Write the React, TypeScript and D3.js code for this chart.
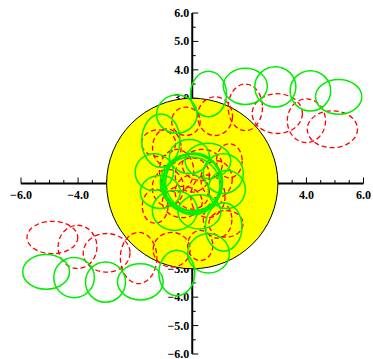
import React, { useEffect, useRef } from 'react';
import * as d3 from 'd3';

// [cx, cy, rx, ry] in data units
const greenEllipses: number[][] = [
  [0.57, 3.15, 0.63, 0.8],
  [1.86, 3.42, 0.77, 0.64],
  [2.91, 3.4, 0.72, 0.71],
  [4.14, 3.26, 0.71, 0.71],
  [5.13, 3.05, 0.81, 0.61],
  [-0.54, -3.15, 0.63, 0.8],
  [-1.82, -3.46, 0.8, 0.64],
  [-3.04, -3.47, 0.7, 0.71],
  [-4.14, -3.31, 0.71, 0.71],
  [-5.12, -3.11, 0.82, 0.61],
  [-0.54, 2.44, 0.71, 0.67],
  [0.57, -2.46, 0.73, 0.69],
  [-1.1, 1.51, 0.67, 0.94],
  [1.1, -1.53, 0.64, 0.85],
  [-1.33, 0.4, 0.67, 0.65],
  [-1.12, -0.3, 0.7, 0.58],
  [-0.61, -0.95, 0.79, 0.7],
  [0.25, -1.0, 0.75, 0.6],
  [1.09, 0.35, 0.7, 0.7],
  [1.21, -0.21, 0.65, 0.67],
  [0.55, 0.8, 0.8, 0.62],
  [-0.1, 0.95, 0.7, 0.6],
  [0.0, 0.0, 1.05, 1.05],
  [0.03, -0.02, 1.0, 1.08],
  [-0.04, 0.03, 1.08, 1.0],
  [0.05, 0.05, 0.98, 1.02],
  [-0.05, -0.05, 1.02, 0.98],
  [0.02, 0.04, 1.04, 1.0],
];

const redEllipses: number[][] = [
  [0.8, 2.37, 0.61, 0.68],
  [1.86, 2.68, 0.6, 0.82],
  [2.98, 2.46, 0.88, 0.7],
  [4.0, 2.21, 0.67, 0.77],
  [4.91, 1.91, 0.88, 0.65],
  [-0.72, -2.33, 0.65, 0.61],
  [-1.88, -2.62, 0.64, 0.9],
  [-3.0, -2.44, 0.82, 0.68],
  [-4.02, -2.23, 0.68, 0.76],
  [-4.9, -1.9, 0.89, 0.57],
  [-0.22, 2.19, 0.5, 0.5],
  [0.28, -2.18, 0.44, 0.53],
  [-0.89, 1.27, 0.5, 0.65],
  [0.89, -1.27, 0.5, 0.65],
  [1.18, -1.42, 0.6, 0.47],
  [-1.18, 1.42, 0.6, 0.47],
  [-0.55, 0.45, 0.6, 0.75],
  [0.55, -0.45, 0.6, 0.75],
  [0.35, 0.65, 0.7, 0.55],
  [-0.35, -0.65, 0.7, 0.55],
  [-0.85, -0.15, 0.55, 0.65],
  [0.85, 0.15, 0.55, 0.65],
  [0.0, 0.3, 0.6, 0.6],
  [0.0, -0.3, 0.6, 0.6],
  [1.3, 0.8, 0.45, 0.6],
  [-1.3, -0.8, 0.45, 0.6],
];

const xLabelTicks = [-6, -4, -2, 0, 2, 4, 6];
const yLabelTicks = [-6, -5, -4, -3, -2, -1, 0, 1, 2, 3, 4, 5, 6];
const minorTicks = d3.range(-6, 6.01, 0.5);
const circleRadius = 3;

const fmt = (v: number) => (v < 0 ? '\u2212' : '') + Math.abs(v).toFixed(1);

export default function App() {
  const svgRef = useRef<SVGSVGElement>(null);

  useEffect(() => {
    if (!svgRef.current) return;
    const width = 373;
    const height = 359;

    const svg = d3.select(svgRef.current).attr('width', width).attr('height', height);
    svg.selectAll('*').remove();

    const x = d3.scaleLinear().domain([-6, 6]).range([21, 363.5]);
    const y = d3.scaleLinear().domain([-6, 6]).range([354, 13]);
    const kx = x(1) - x(0);
    const ky = y(0) - y(1);
    const x0 = x(0);
    const y0 = y(0);

    const font = '"Liberation Serif", "Times New Roman", serif';

    // X axis
    svg.append('line')
      .attr('x1', x(-6)).attr('x2', x(6))
      .attr('y1', y0).attr('y2', y0)
      .attr('stroke', '#000').attr('stroke-width', 2);

    svg.selectAll('.xminor')
      .data(minorTicks)
      .enter()
      .append('line')
      .attr('x1', (d) => x(d)).attr('x2', (d) => x(d))
      .attr('y1', y0)
      .attr('y2', (d) => (Math.abs(d % 2) < 1e-6 ? y0 - 6 : y0 - 3.5))
      .attr('stroke', '#000').attr('stroke-width', 1);

    svg.selectAll('.xlab')
      .data(xLabelTicks)
      .enter()
      .append('text')
      .attr('x', (d) => x(d))
      .attr('y', y0 + 15)
      .attr('text-anchor', 'middle')
      .style('font-family', font)
      .style('font-weight', 'bold')
      .style('font-size', '12px')
      .text((d) => fmt(d));

    // Y axis
    svg.append('line')
      .attr('x1', x0).attr('x2', x0)
      .attr('y1', y(-6)).attr('y2', y(6))
      .attr('stroke', '#000').attr('stroke-width', 2);

    svg.selectAll('.yminor')
      .data(minorTicks)
      .enter()
      .append('line')
      .attr('y1', (d) => y(d)).attr('y2', (d) => y(d))
      .attr('x1', x0)
      .attr('x2', (d) => (Math.abs(d % 1) < 1e-6 ? x0 + 6 : x0 + 3.5))
      .attr('stroke', '#000').attr('stroke-width', 1);

    svg.selectAll('.ylab')
      .data(yLabelTicks)
      .enter()
      .append('text')
      .attr('x', x0 - 3)
      .attr('y', (d) => Math.min(y(d) + 4, 357.5))
      .attr('text-anchor', 'end')
      .style('font-family', font)
      .style('font-weight', 'bold')
      .style('font-size', '12px')
      .text((d) => fmt(d));

    // Yellow disc
    svg.append('ellipse')
      .attr('cx', x0).attr('cy', y0)
      .attr('rx', circleRadius * kx).attr('ry', circleRadius * ky)
      .attr('fill', '#ffff00')
      .attr('stroke', '#000')
      .attr('stroke-width', 1);

    // Red dashed ellipses
    svg.selectAll('.red')
      .data(redEllipses)
      .enter()
      .append('ellipse')
      .attr('cx', (d) => x(d[0]))
      .attr('cy', (d) => y(d[1]))
      .attr('rx', (d) => d[2] * kx)
      .attr('ry', (d) => d[3] * ky)
      .attr('fill', 'none')
      .attr('stroke', '#ff0000')
      .attr('stroke-width', 1.3)
      .attr('stroke-dasharray', '5,3');

    // Green ellipses
    svg.selectAll('.green')
      .data(greenEllipses)
      .enter()
      .append('ellipse')
      .attr('cx', (d) => x(d[0]))
      .attr('cy', (d) => y(d[1]))
      .attr('rx', (d) => d[2] * kx)
      .attr('ry', (d) => d[3] * ky)
      .attr('fill', 'none')
      .attr('stroke', '#00ee00')
      .attr('stroke-width', 1.5);
  }, []);

  return (
    <div style={{ position: 'absolute', left: 0, top: 0 }}>
      <svg ref={svgRef} style={{ display: 'block' }} />
    </div>
  );
}
